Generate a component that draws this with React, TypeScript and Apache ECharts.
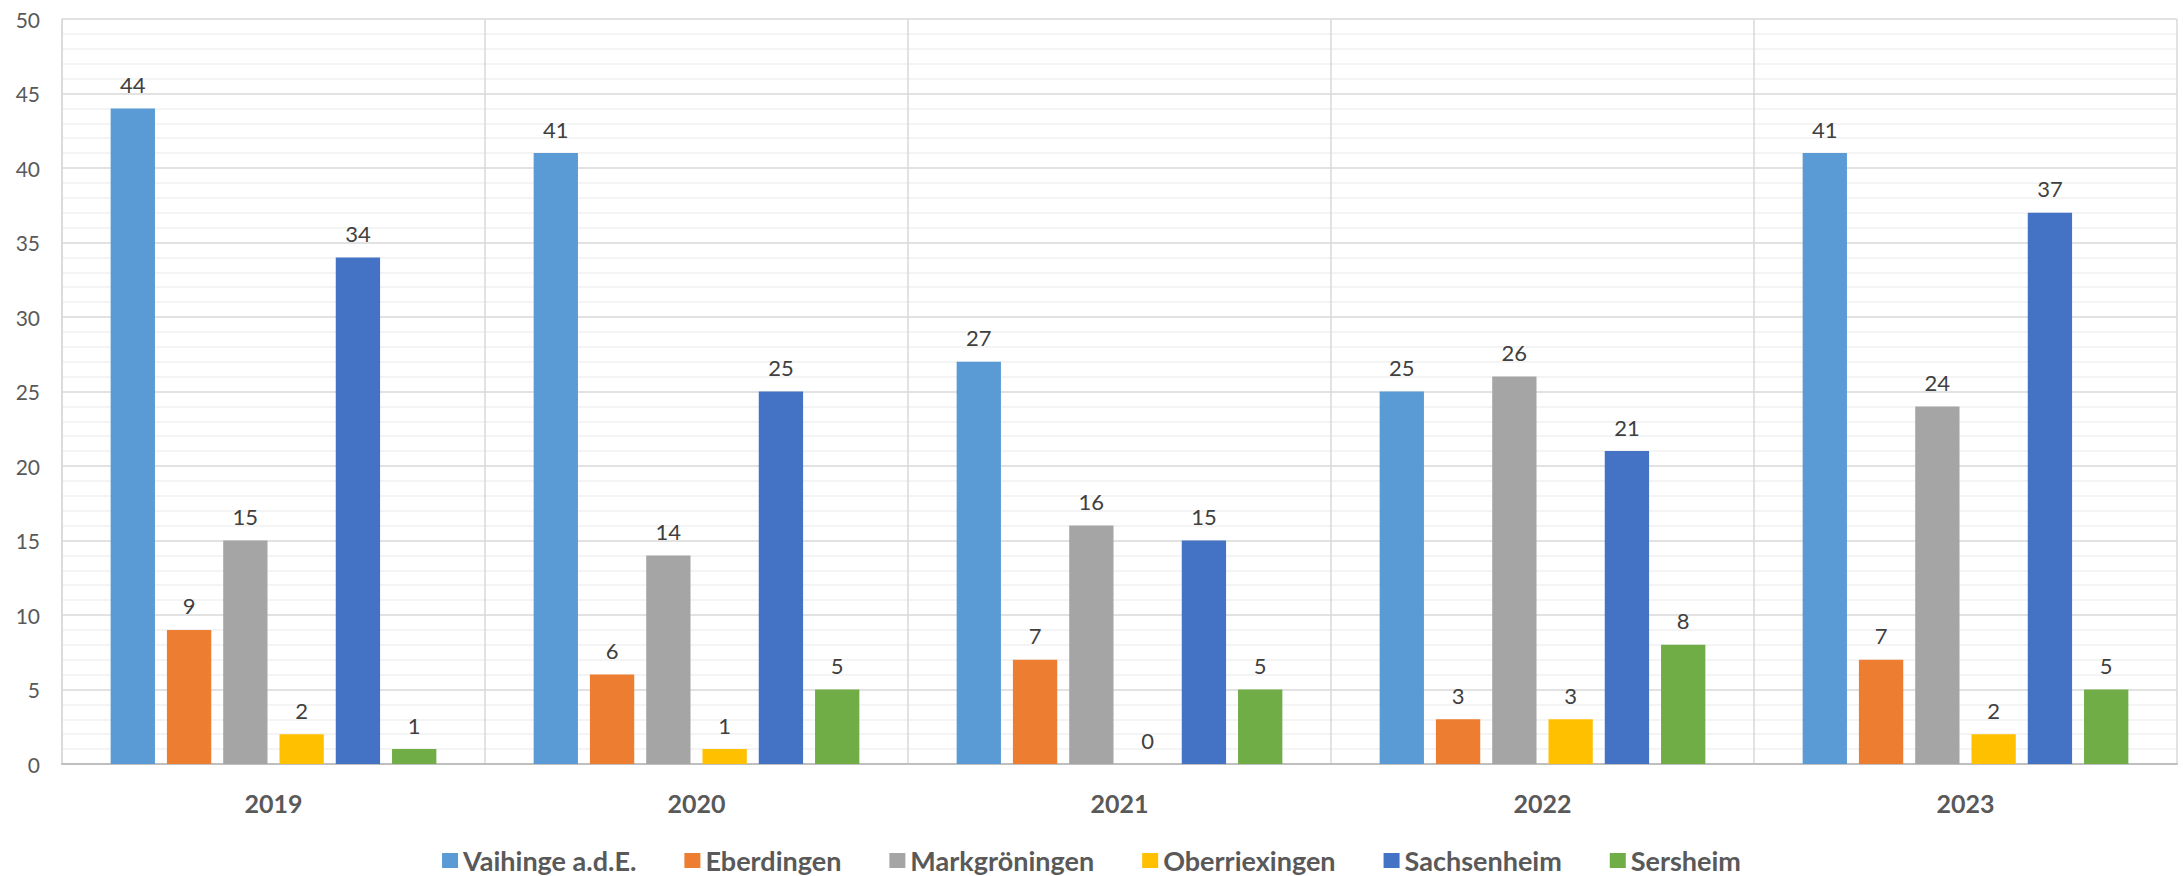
import React, { useEffect, useRef } from "react";
import * as echarts from "echarts";

const years = ["2019", "2020", "2021", "2022", "2023"];
const seriesNames = ["Vaihinge a.d.E.", "Eberdingen", "Markgröningen", "Oberriexingen", "Sachsenheim", "Sersheim"];
const vaihingen = [44, 41, 27, 25, 41];
const eberdingen = [9, 6, 7, 3, 7];
const markgroeningen = [15, 14, 16, 26, 24];
const oberriexingen = [2, 1, 0, 3, 2];
const sachsenheim = [34, 25, 15, 21, 37];
const sersheim = [1, 5, 5, 8, 5];
const colors = ["#5B9BD5", "#ED7D31", "#A5A5A5", "#FFC000", "#4472C4", "#70AD47"];

const FONT = "Lato, 'Open Sans', sans-serif";

export default function App() {
  const ref = useRef<HTMLDivElement>(null);
  useEffect(() => {
    if (!ref.current) return;
    const chart = echarts.init(ref.current, null, { renderer: "svg" });
    const data = [vaihingen, eberdingen, markgroeningen, oberriexingen, sachsenheim, sersheim];
    chart.setOption({
      animation: false,
      backgroundColor: "#ffffff",
      color: colors,
      textStyle: { fontFamily: FONT },
      grid: { left: 62, right: 6, top: 19, bottom: 112, containLabel: false },
      legend: {
        data: seriesNames,
        top: 847,
        left: "center",
        padding: 0,
        itemWidth: 16,
        itemHeight: 15,
        itemGap: 48,
        icon: "rect",
        textStyle: { fontFamily: FONT, fontSize: 27, fontWeight: "bold", color: "#595959" },
      },
      xAxis: {
        type: "category",
        data: years,
        axisLine: { show: true, lineStyle: { color: "#bfbfbf", width: 2 } },
        axisTick: { show: false },
        splitLine: { show: true, lineStyle: { color: "#d9d9d9", width: 1.5 } },
        axisLabel: { fontFamily: FONT, fontSize: 25, fontWeight: "bold", color: "#595959", margin: 26 },
      },
      yAxis: {
        type: "value",
        min: 0,
        max: 50,
        interval: 5,
        axisLine: { show: true, lineStyle: { color: "#d9d9d9", width: 1.5 } },
        axisTick: { show: false },
        axisLabel: { fontFamily: FONT, fontSize: 21, color: "#595959", margin: 22 },
        splitLine: { show: true, lineStyle: { color: "#d9d9d9", width: 1.5 } },
        minorTick: { show: false, splitNumber: 5 },
        minorSplitLine: { show: true, lineStyle: { color: "#f0f0f0", width: 1.5 } },
      },
      series: seriesNames.map((name, i) => ({
        name,
        type: "bar",
        data: data[i],
        barGap: "27%",
        barCategoryGap: "23%",
        itemStyle: { color: colors[i] },
        label: {
          show: true,
          position: "top",
          distance: 13,
          fontFamily: FONT,
          fontSize: 22,
          color: "#404040",
        },
      })),
    });
    return () => chart.dispose();
  }, []);
  return (
    <div
      ref={ref}
      style={{ position: "fixed", left: 0, top: 0, width: 2183, height: 876, background: "#fff" }}
    />
  );
}
